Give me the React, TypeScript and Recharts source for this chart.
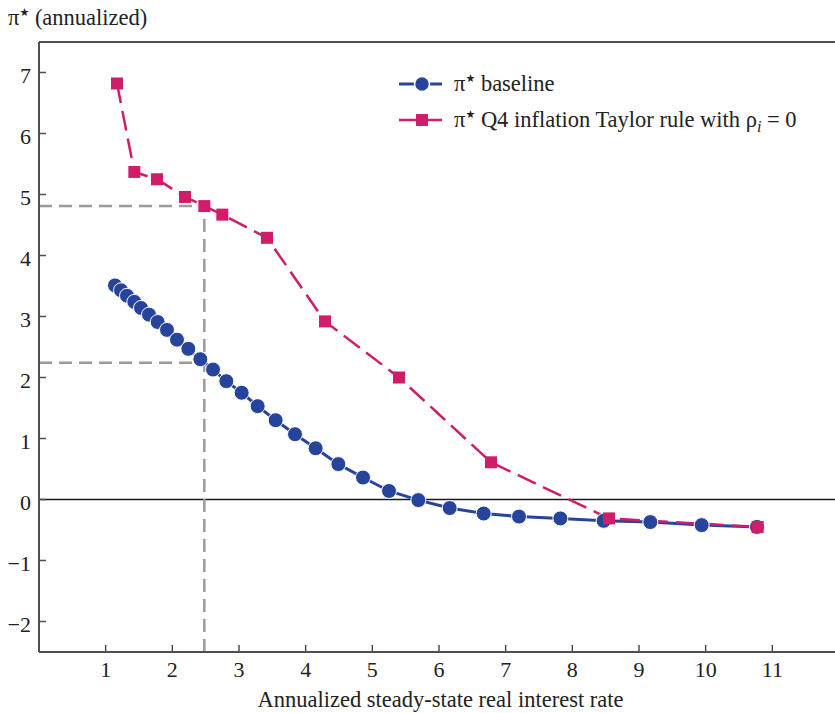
import React from 'react'
import { ComposedChart, Line, XAxis, YAxis, ReferenceLine, Legend } from 'recharts'

const BLUE = '#27449d'
const PINK = '#cf1d6a'
const GRAY = '#9b9b9b'
const AXIS = '#4f4f4f'
const TEXT = '#222222'
const FONT = '"Liberation Serif", "Times New Roman", serif'

// pi* baseline
const baselineRate = [
  1.14, 1.23, 1.32, 1.43, 1.53, 1.65, 1.78, 1.92, 2.07, 2.24,
  2.42, 2.61, 2.81, 3.04, 3.28, 3.55, 3.84, 4.15, 4.49, 4.86,
  5.25, 5.69, 6.16, 6.67, 7.2, 7.82, 8.47, 9.17, 9.94, 10.77
]
const baselinePi = [
  3.51, 3.43, 3.34, 3.24, 3.14, 3.03, 2.91, 2.78, 2.62, 2.47,
  2.3, 2.13, 1.94, 1.75, 1.53, 1.3, 1.07, 0.84, 0.58, 0.36,
  0.14, -0.01, -0.14, -0.23, -0.28, -0.31, -0.35, -0.37, -0.42, -0.45
]

// pi* Q4 inflation Taylor rule with rho_i = 0
const taylorRate = [1.17, 1.43, 1.77, 2.19, 2.48, 2.75, 3.42, 4.29, 5.4, 6.78, 8.55, 10.78]
const taylorPi = [6.82, 5.37, 5.25, 4.96, 4.81, 4.67, 4.29, 2.92, 2.0, 0.61, -0.31, -0.45]

const xTicks = [1, 2, 3, 4, 5, 6, 7, 8, 9, 10, 11]
const yTicks = [-2, -1, 0, 1, 2, 3, 4, 5, 6, 7]

// dashed guides
const guideRate = 2.48
const guideBaselinePi = 2.24
const guideTaylorPi = 4.81

const baselineData = baselineRate.map((x, i) => ({ x, y: baselinePi[i] }))
const taylorData = taylorRate.map((x, i) => ({ x, y: taylorPi[i] }))

const fmt = (v: number) => (v < 0 ? '\u2212' + Math.abs(v) : String(v))

const XTick = (props: any) => {
  const { x, y, payload } = props
  return (
    <g>
      <line x1={x} x2={x} y1={y} y2={y - 7} stroke={AXIS} strokeWidth={1.5} />
      <text x={x} y={y + 25} textAnchor="middle" fontFamily={FONT} fontSize={22} fill={TEXT}>
        {fmt(payload.value)}
      </text>
    </g>
  )
}

const YTick = (props: any) => {
  const { x, y, payload } = props
  return (
    <g>
      <line x1={x} x2={x + 7} y1={y} y2={y} stroke={AXIS} strokeWidth={1.5} />
      <text x={x - 8} y={y + 10} textAnchor="end" fontFamily={FONT} fontSize={22} fill={TEXT}>
        {fmt(payload.value)}
      </text>
    </g>
  )
}

const circleDot = (props: any) => {
  const { cx, cy, index } = props
  return <circle key={'c' + index} cx={cx} cy={cy} r={7.5} fill={BLUE} stroke="#fff" strokeWidth={1} />
}

const squareDot = (props: any) => {
  const { cx, cy, index } = props
  return <rect key={'s' + index} x={cx - 6} y={cy - 6} width={12} height={12} fill={PINK} />
}

const Star = () => (
  <tspan fontFamily="DejaVu Sans" fontSize={11} dy={-9}>{'\u2605'}</tspan>
)

const renderLegend = () => (
  <svg width={440} height={72} style={{ display: 'block' }}>
    <line x1={7} x2={50} y1={18} y2={18} stroke={BLUE} strokeWidth={3} />
    <circle cx={30} cy={18} r={7.5} fill={BLUE} stroke="#fff" strokeWidth={1.5} />
    <text x={62} y={25} fontFamily={FONT} fontSize={22.5} fill={TEXT}>
      {'\u03c0'}<Star /><tspan dy={9}>{' baseline'}</tspan>
    </text>
    <line x1={7} x2={50} y1={54} y2={54} stroke={PINK} strokeWidth={2.5} />
    <rect x={24} y={48} width={12} height={12} fill={PINK} />
    <text x={62} y={61} fontFamily={FONT} fontSize={22.5} fill={TEXT}>
      {'\u03c0'}<Star /><tspan dy={9}>{' Q4 inflation Taylor rule with \u03c1'}</tspan>
      <tspan fontStyle="italic" fontSize={16} dy={5}>i</tspan>
      <tspan dy={-5}>{' = 0'}</tspan>
    </text>
  </svg>
)

export default function App() {
  return (
    <div style={{ position: 'absolute', left: 0, top: 0, width: 835, height: 713, overflow: 'hidden', background: '#fff' }}>
      <ComposedChart width={845} height={713} margin={{ top: 42, right: 6, bottom: 0, left: 0 }}>
        <XAxis
          type="number"
          dataKey="x"
          domain={[0, 12]}
          ticks={xTicks}
          height={61}
          tickSize={0}
          tickMargin={0}
          tick={<XTick />}
          axisLine={{ stroke: AXIS, strokeWidth: 2 }}
          allowDataOverflow
        />
        <YAxis
          type="number"
          dataKey="y"
          domain={[-2.5, 7.5]}
          ticks={yTicks}
          width={39}
          tickSize={0}
          tickMargin={0}
          tick={<YTick />}
          axisLine={{ stroke: AXIS, strokeWidth: 2 }}
          allowDataOverflow
        />
        <ReferenceLine y={7.5} stroke={AXIS} strokeWidth={2} />
        <ReferenceLine y={0} stroke="#1a1a1a" strokeWidth={1.5} />
        <ReferenceLine
          segment={[{ x: 0, y: guideTaylorPi }, { x: guideRate, y: guideTaylorPi }]}
          stroke={GRAY}
          strokeWidth={2.5}
          strokeDasharray="13 7"
        />
        <ReferenceLine
          segment={[{ x: 0, y: guideBaselinePi }, { x: guideRate, y: guideBaselinePi }]}
          stroke={GRAY}
          strokeWidth={2.5}
          strokeDasharray="13 7"
        />
        <ReferenceLine
          segment={[{ x: guideRate, y: -2.5 }, { x: guideRate, y: guideTaylorPi }]}
          stroke={GRAY}
          strokeWidth={2.5}
          strokeDasharray="13 7"
        />
        <Line
          data={baselineData}
          dataKey="y"
          type="linear"
          stroke={BLUE}
          strokeWidth={3}
          dot={circleDot}
          activeDot={false}
          isAnimationActive={false}
          name="baseline"
        />
        <Line
          data={taylorData}
          dataKey="y"
          type="linear"
          stroke={PINK}
          strokeWidth={2.5}
          strokeDasharray="20 8"
          dot={squareDot}
          activeDot={false}
          isAnimationActive={false}
          name="taylor"
        />
        <Legend
          layout="horizontal"
          verticalAlign="middle"
          align="center"
          content={renderLegend}
          wrapperStyle={{ position: 'absolute', left: 392, top: 66, width: 440, height: 72 }}
        />
      </ComposedChart>
      <svg width={835} height={713} style={{ position: 'absolute', left: 0, top: 0, pointerEvents: 'none' }}>
        <text x={8} y={25} fontFamily={FONT} fontSize={22.5} fill={TEXT}>
          {'\u03c0'}<Star /><tspan dy={9}>{' (annualized)'}</tspan>
        </text>
        <text x={440.5} y={707} textAnchor="middle" fontFamily={FONT} fontSize={22.5} fill={TEXT}>
          Annualized steady-state real interest rate
        </text>
      </svg>
    </div>
  )
}
